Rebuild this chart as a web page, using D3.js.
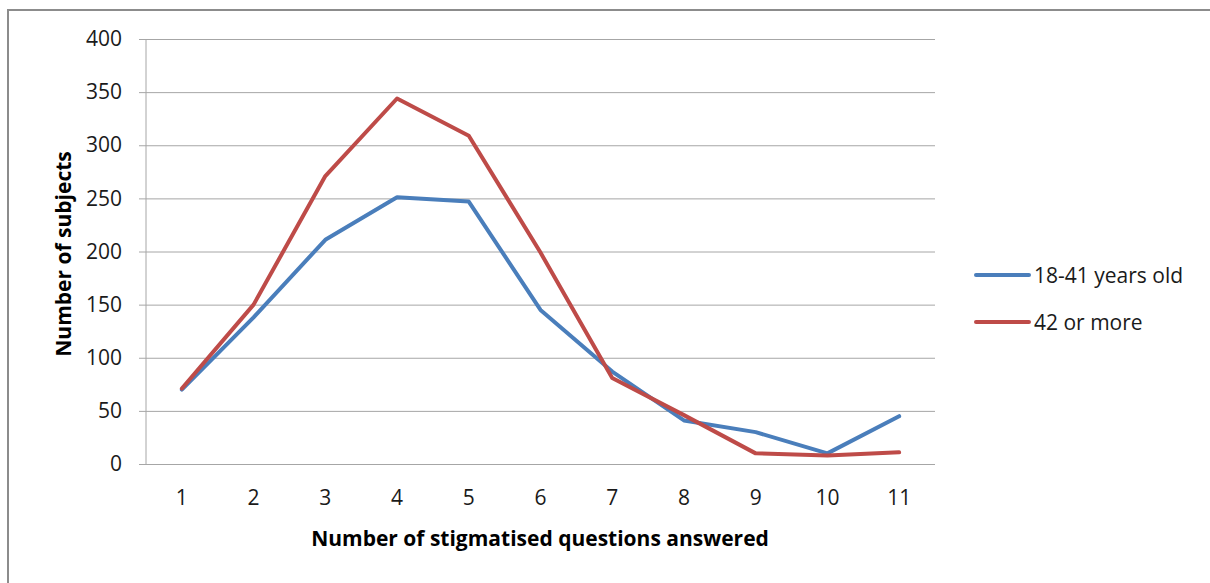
<!DOCTYPE html>
<html>
<head>
<meta charset="utf-8">
<script src="https://cdn.jsdelivr.net/npm/d3@7"></script>
<style>
  html, body { margin: 0; padding: 0; background: #fff; }
  svg { display: block; font-family: "Open Sans", "DejaVu Sans", sans-serif; }
</style>
</head>
<body>
<svg id="chart" width="1210" height="583"></svg>
<script>
// Answers per stigmatised question count, by age group
const categories = ["1", "2", "3", "4", "5", "6", "7", "8", "9", "10", "11"];
const young = [70, 138, 211, 251, 247, 145, 87, 41, 30, 10, 45];
const older = [71, 150, 271, 344, 309, 199, 81, 46, 10, 8, 11];
const yTicks = [0, 50, 100, 150, 200, 250, 300, 350, 400];
const seriesNames = ["18-41 years old", "42 or more"];
const seriesColors = ["#4a7ebb", "#be4b48"];

const svg = d3.select("#chart");

// outer frame
svg.append("path")
  .attr("d", "M8,590 L8,10 L1220,10")
  .attr("fill", "none")
  .attr("stroke", "#8c8c8c")
  .attr("stroke-width", 2);

const plot = { left: 146, right: 935, top: 39, bottom: 464 };

const x = d3.scaleBand().domain(categories).range([plot.left, plot.right]);
const y = d3.scaleLinear().domain([0, 400]).range([plot.bottom, plot.top]);

// horizontal gridlines with short ticks on the left
const yAxis = d3.axisLeft(y).tickValues(yTicks).tickSize(-(plot.right - plot.left)).tickPadding(24);
const gy = svg.append("g").attr("transform", `translate(${plot.left},0)`).call(yAxis);
gy.select(".domain").remove();
gy.selectAll(".tick line")
  .attr("x1", -7)
  .attr("stroke", "#a6a6a6")
  .attr("stroke-width", 1);
gy.selectAll(".tick text")
  .attr("font-size", 21)
  .attr("fill", "#1a1a1a")
  .attr("font-family", "Open Sans, sans-serif");

// vertical axis line
svg.append("line")
  .attr("x1", plot.left).attr("x2", plot.left)
  .attr("y1", plot.top).attr("y2", plot.bottom)
  .attr("stroke", "#a6a6a6").attr("stroke-width", 1);

// category labels
const xAxis = d3.axisBottom(x).tickSize(0).tickPadding(26);
const gx = svg.append("g").attr("transform", `translate(0,${plot.bottom})`).call(xAxis);
gx.select(".domain").remove();
gx.selectAll(".tick text")
  .attr("font-size", 21)
  .attr("fill", "#1a1a1a")
  .attr("font-family", "Open Sans, sans-serif");

// axis titles
svg.append("text")
  .attr("x", 540)
  .attr("y", 546)
  .attr("text-anchor", "middle")
  .attr("font-size", 21)
  .attr("font-weight", "bold")
  .attr("fill", "#000")
  .text("Number of stigmatised questions answered");

svg.append("text")
  .attr("transform", "translate(71,254) rotate(-90)")
  .attr("text-anchor", "middle")
  .attr("font-size", 21)
  .attr("font-weight", "bold")
  .attr("fill", "#000")
  .text("Number of subjects");

// series lines
const line = d3.line()
  .x((d, i) => x(categories[i]) + x.bandwidth() / 2)
  .y(d => y(d));

[young, older].forEach((vals, k) => {
  svg.append("path")
    .datum(vals)
    .attr("d", line)
    .attr("fill", "none")
    .attr("stroke", seriesColors[k])
    .attr("stroke-width", 4)
    .attr("stroke-linejoin", "round")
    .attr("stroke-linecap", "round");
});

// legend
const legend = svg.append("g");
seriesNames.forEach((name, k) => {
  const ly = 275 + k * 47;
  legend.append("line")
    .attr("x1", 976).attr("x2", 1029)
    .attr("y1", ly).attr("y2", ly)
    .attr("stroke", seriesColors[k])
    .attr("stroke-width", 4)
    .attr("stroke-linecap", "round");
  legend.append("text")
    .attr("x", 1034)
    .attr("y", ly + 8)
    .attr("font-size", 21)
    .attr("fill", "#1a1a1a")
    .text(name);
});
</script>
</body>
</html>
